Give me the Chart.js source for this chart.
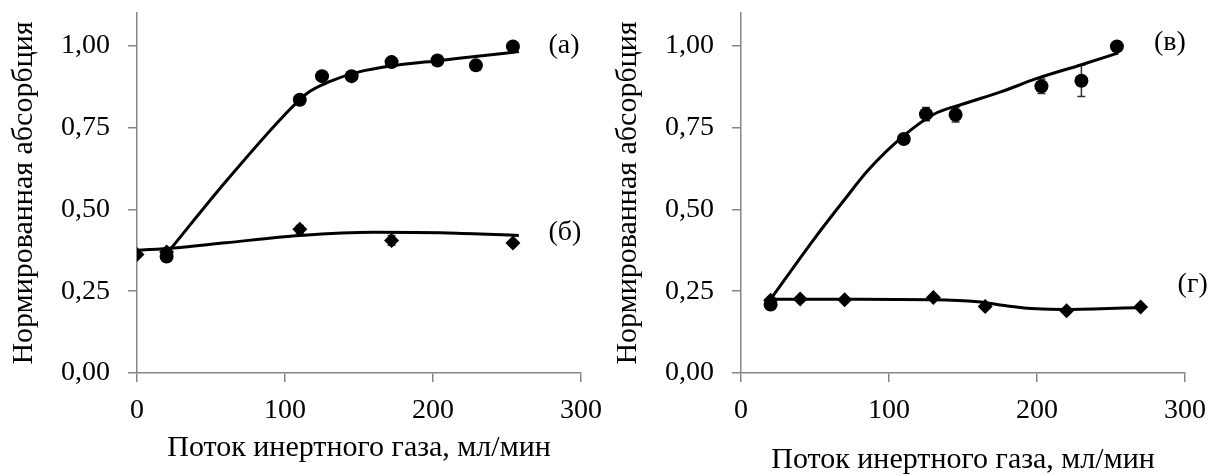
<!DOCTYPE html>
<html>
<head>
<meta charset="utf-8">
<script src="https://cdn.jsdelivr.net/npm/chart.js@4"></script>
<style>
  body { margin: 0; background: #fff; }
  .wrap { display: flex; width: 1208px; height: 475px; }
  canvas { display: block; }
</style>
</head>
<body>
<div class="wrap">
  <canvas id="left" width="604" height="475"></canvas>
  <canvas id="right" width="604" height="475"></canvas>
</div>
<script>
// tick labels
const yTicks = [0, 0.25, 0.5, 0.75, 1.0];
const xTicks = [0, 100, 200, 300];

// panel (а) - circles
const flowA = [20, 110, 125, 145, 172, 203, 229, 254];
const absA = [0.356, 0.835, 0.907, 0.907, 0.950, 0.955, 0.940, 0.998];
const fitFlowA = [22, 60, 100, 115, 130, 150, 175, 205, 230, 258];
const fitAbsA = [0.375, 0.585, 0.79, 0.855, 0.89, 0.92, 0.94, 0.955, 0.968, 0.982];

// panel (б) - diamonds
const flowB = [0, 20, 110, 172, 254];
const absB = [0.362, 0.37, 0.439, 0.405, 0.397];
const errB = [0, 0, 0.012, 0.015, 0.008];
const fitFlowB = [0, 25, 60, 110, 160, 210, 258];
const fitAbsB = [0.375, 0.382, 0.398, 0.42, 0.43, 0.428, 0.42];

// panel (в) - circles
const flowV = [20, 110, 125, 145, 203, 230, 254];
const absV = [0.209, 0.715, 0.791, 0.789, 0.876, 0.893, 0.998];
const errV = [0, 0.01, 0.02, 0.022, 0.022, 0.048, 0];
const fitFlowV = [19, 49, 70, 86, 110, 130, 150, 175, 200, 230, 255];
const fitAbsV = [0.219, 0.407, 0.53, 0.62, 0.725, 0.79, 0.822, 0.858, 0.9, 0.942, 0.978];

// panel (г) - diamonds
const flowG = [20, 40, 70, 130, 165, 220, 270];
const absG = [0.222, 0.226, 0.224, 0.231, 0.203, 0.19, 0.202];
const errG = [0, 0, 0, 0.008, 0.008, 0, 0];
const fitFlowG = [20, 40, 70, 130, 160, 180, 200, 220, 270];
const fitAbsG = [0.225, 0.225, 0.225, 0.224, 0.218, 0.205, 0.196, 0.194, 0.2];

const FONT = "'Liberation Serif', 'Times New Roman', serif";
const AXIS = '#868686';

const pts = (xs, ys) => xs.map((v, i) => ({x: v, y: ys[i]}));

const extras = {
  id: 'extras',
  beforeDatasetsDraw(chart, args, opts) {
    const {ctx, scales: {x, y}} = chart;
    ctx.save();
    ctx.strokeStyle = '#333';
    ctx.lineWidth = 1.5;
    (opts.errors || []).forEach(e => {
      e.xs.forEach((xv, i) => {
        const d = e.err[i];
        if (!d) return;
        const px = x.getPixelForValue(xv);
        const t = y.getPixelForValue(e.ys[i] + d);
        const b = y.getPixelForValue(e.ys[i] - d);
        ctx.beginPath();
        ctx.moveTo(px, t); ctx.lineTo(px, b);
        ctx.moveTo(px - 4, t); ctx.lineTo(px + 4, t);
        ctx.moveTo(px - 4, b); ctx.lineTo(px + 4, b);
        ctx.stroke();
      });
    });
    ctx.restore();
  },
  afterDraw(chart, args, opts) {
    const {ctx, scales: {x, y}} = chart;
    ctx.save();
    ctx.fillStyle = '#000';
    ctx.font = '28px ' + FONT;
    ctx.textBaseline = 'middle';
    ctx.textAlign = 'left';
    (opts.labels || []).forEach(l => {
      ctx.fillText(l.text, x.getPixelForValue(l.x), y.getPixelForValue(l.y));
    });
    ctx.restore();
  }
};

function makeChart(id, sets, errors, labels, titleBottom) {
  const datasets = sets.map(s => s.fit ? {
    data: s.data,
    showLine: true,
    borderColor: '#000',
    borderWidth: 3,
    pointRadius: 0,
    cubicInterpolationMode: 'monotone'
  } : {
    data: s.data,
    showLine: false,
    pointStyle: s.style,
    pointRadius: s.style === 'circle' ? 7 : 7.5,
    backgroundColor: '#000',
    borderColor: '#000',
    borderWidth: 0
  });
  return new Chart(document.getElementById(id), {
    type: 'scatter',
    data: {datasets},
    plugins: [extras],
    options: {
      responsive: false,
      animation: false,
      layout: {padding: {left: 0, top: 13, right: 23, bottom: 0}},
      plugins: {
        legend: {display: false},
        tooltip: {enabled: false},
        extras: {errors, labels}
      },
      scales: {
        x: {
          type: 'linear', min: 0, max: 300,
          afterBuildTicks: s => { s.ticks = xTicks.map(v => ({value: v})); },
          afterFit: s => { s.height = 102; s.paddingLeft = 0; s.paddingRight = 0; },
          grid: {drawOnChartArea: false, drawTicks: true, tickLength: 9, color: AXIS, lineWidth: 1.5},
          border: {color: AXIS, width: 1.5},
          ticks: {color: '#000', font: {family: FONT, size: 28}, padding: 12, maxRotation: 0},
          title: {display: true, text: 'Поток инертного газа, мл/мин', color: '#000',
            font: {family: FONT, size: 30, lineHeight: 1.0}, padding: {top: 0, bottom: titleBottom}}
        },
        y: {
          type: 'linear', min: 0, max: 1.1,
          afterBuildTicks: s => { s.ticks = yTicks.map(v => ({value: v})); },
          afterFit: s => { s.width = 137; s.paddingTop = 0; s.paddingBottom = 0; },
          grid: {drawOnChartArea: false, drawTicks: true, tickLength: 9, color: AXIS, lineWidth: 1.5},
          border: {color: AXIS, width: 1.5},
          ticks: {color: '#000', font: {family: FONT, size: 28}, padding: 18,
            callback: v => v.toFixed(2).replace('.', ',')},
          title: {display: true, text: 'Нормированная абсорбция', color: '#000',
            font: {family: FONT, size: 30}, padding: {top: 6, bottom: 0}}
        }
      }
    }
  });
}

makeChart('left', [
  {fit: true, data: pts(fitFlowA, fitAbsA)},
  {fit: true, data: pts(fitFlowB, fitAbsB)},
  {style: 'rectRot', data: pts(flowB, absB)},
  {style: 'circle', data: pts(flowA, absA)}
], [
  {xs: flowB, ys: absB, err: errB}
], [
  {text: '(а)', x: 278, y: 1.0},
  {text: '(б)', x: 278, y: 0.43}
], 12);

makeChart('right', [
  {fit: true, data: pts(fitFlowV, fitAbsV)},
  {fit: true, data: pts(fitFlowG, fitAbsG)},
  {style: 'circle', data: pts(flowV, absV)},
  {style: 'rectRot', data: pts(flowG, absG)}
], [
  {xs: flowV, ys: absV, err: errV},
  {xs: flowG, ys: absG, err: errG}
], [
  {text: '(в)', x: 279, y: 1.01},
  {text: '(г)', x: 295, y: 0.27}
], 0);
</script>
</body>
</html>
